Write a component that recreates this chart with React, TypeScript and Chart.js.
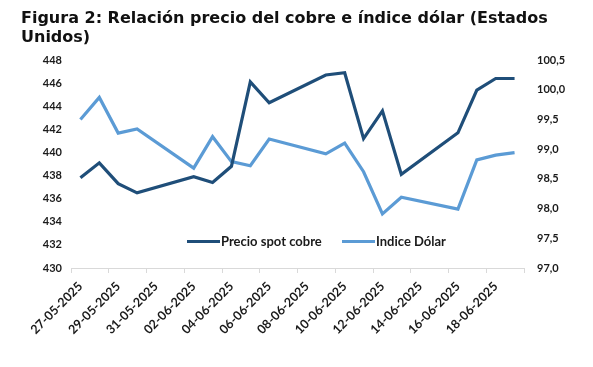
import React, { useEffect, useRef } from 'react';
import { Chart, registerables } from 'chart.js';

Chart.register(...registerables);

const dates = [
  '27-05-2025', '28-05-2025', '29-05-2025', '30-05-2025', '02-06-2025', '03-06-2025',
  '04-06-2025', '05-06-2025', '06-06-2025', '09-06-2025', '10-06-2025', '11-06-2025',
  '12-06-2025', '13-06-2025', '16-06-2025', '17-06-2025', '18-06-2025', '19-06-2025',
];
const copper = [
  437.8, 439.1, 437.3, 436.5, 437.9, 437.4, 438.8, 446.1, 444.3,
  446.7, 446.9, 441.2, 443.6, 438.1, 441.7, 445.4, 446.4, 446.4,
];
const dollar = [
  99.5, 99.87, 99.27, 99.34, 98.68, 99.21, 98.79, 98.72, 99.17,
  98.92, 99.1, 98.62, 97.91, 98.19, 97.99, 98.82, 98.9, 98.94,
];
const tickLabels = [
  '27-05-2025', '29-05-2025', '31-05-2025', '02-06-2025', '04-06-2025', '06-06-2025',
  '08-06-2025', '10-06-2025', '12-06-2025', '14-06-2025', '16-06-2025', '18-06-2025',
];
const seriesNames = ['Precio spot cobre', 'Indice Dólar'];
const colors = ['#1F4E79', '#5B9BD5'];
const titleText = 'Figura 2: Relación precio del cobre e índice dólar (Estados';
const titleText2 = 'Unidos)';

const parseDate = (s: string) => {
  const [d, m, y] = s.split('-').map(Number);
  return Date.UTC(y, m - 1, d);
};
const base = parseDate(dates[0]);
const dayIndex = (s: string) => Math.round((parseDate(s) - base) / 86400000);
const lastDay = dayIndex(dates[dates.length - 1]);

const tickFont = { family: 'Lato', size: 11, weight: 'bold' as const };
const xTickFont = { family: 'Lato', size: 12.5, weight: 'bold' as const };

export default function App() {
  const ref = useRef<HTMLCanvasElement>(null);
  useEffect(() => {
    if (!ref.current) return;
    const chart = new Chart(ref.current, {
      type: 'line',
      data: {
        datasets: [
          {
            label: seriesNames[0],
            data: dates.map((d, i) => ({ x: dayIndex(d), y: copper[i] })),
            borderColor: colors[0],
            backgroundColor: colors[0],
            borderWidth: 3.2,
            pointRadius: 0,
            tension: 0,
            yAxisID: 'y',
          },
          {
            label: seriesNames[1],
            data: dates.map((d, i) => ({ x: dayIndex(d), y: dollar[i] })),
            borderColor: colors[1],
            backgroundColor: colors[1],
            borderWidth: 3.2,
            pointRadius: 0,
            tension: 0,
            yAxisID: 'y1',
          },
        ],
      },
      options: {
        responsive: false,
        animation: false,
        layout: { padding: { top: 52, left: 0, right: 0, bottom: 0 } },
        plugins: { legend: { display: false }, tooltip: { enabled: false } },
        scales: {
          x: {
            type: 'linear',
            min: -0.5,
            max: lastDay + 0.5,
            afterBuildTicks: (axis: any) => {
              const t = [];
              for (let v = -0.5; v <= lastDay + 0.5 + 1e-9; v += 2) t.push({ value: v });
              axis.ticks = t;
            },
            afterFit: (axis: any) => {
              axis.height = 91;
            },
            border: { display: true, color: '#d9d9d9', width: 1 },
            grid: {
              display: true,
              drawOnChartArea: false,
              drawTicks: true,
              tickLength: 5,
              tickColor: '#d9d9d9',
            },
            ticks: {
              autoSkip: false,
              maxRotation: 45,
              minRotation: 45,
              labelOffset: 9.5,
              padding: 6,
              color: '#1a1a1a',
              font: xTickFont,
              callback: (v: any) => {
                const k = Math.round((Number(v) + 0.5) / 2);
                return tickLabels[k] ?? '';
              },
            },
          },
          y: {
            position: 'left',
            min: 430,
            max: 448,
            afterFit: (axis: any) => {
              axis.width = 63;
            },
            border: { display: false },
            grid: { display: false, drawTicks: false },
            ticks: { stepSize: 2, padding: 9, color: '#1a1a1a', font: tickFont },
          },
          y1: {
            position: 'right',
            min: 97,
            max: 100.5,
            afterFit: (axis: any) => {
              axis.width = 61;
            },
            border: { display: false },
            grid: { display: false, drawTicks: false },
            ticks: {
              stepSize: 0.5,
              padding: 13,
              color: '#1a1a1a',
              font: tickFont,
              callback: (v: any) => Number(v).toFixed(1).replace('.', ','),
            },
          },
        },
      },
    });
    return () => chart.destroy();
  }, []);

  const legendItem = (i: number, left: number) => (
    <div
      style={{
        position: 'absolute',
        left,
        top: 224,
        height: 18,
        display: 'flex',
        alignItems: 'center',
        fontFamily: 'Lato',
        fontWeight: 'bold',
        fontSize: 13,
        color: '#1a1a1a',
        whiteSpace: 'nowrap',
      }}
    >
      <span style={{ display: 'inline-block', width: 33, height: 3, background: colors[i], marginRight: 1 }} />
      <span>{seriesNames[i]}</span>
    </div>
  );

  return (
    <div style={{ position: 'relative', width: 577, height: 351 }}>
      <canvas ref={ref} width={577} height={351} style={{ display: 'block' }} />
      <div
        style={{
          position: 'absolute',
          left: 13,
          top: 0,
          fontFamily: 'DejaVu Sans',
          fontWeight: 'bold',
          fontSize: 16,
          lineHeight: '19px',
          color: '#111',
          whiteSpace: 'nowrap',
        }}
      >
        {titleText}
        <br />
        {titleText2}
      </div>
      {legendItem(0, 179)}
      {legendItem(1, 334)}
    </div>
  );
}
